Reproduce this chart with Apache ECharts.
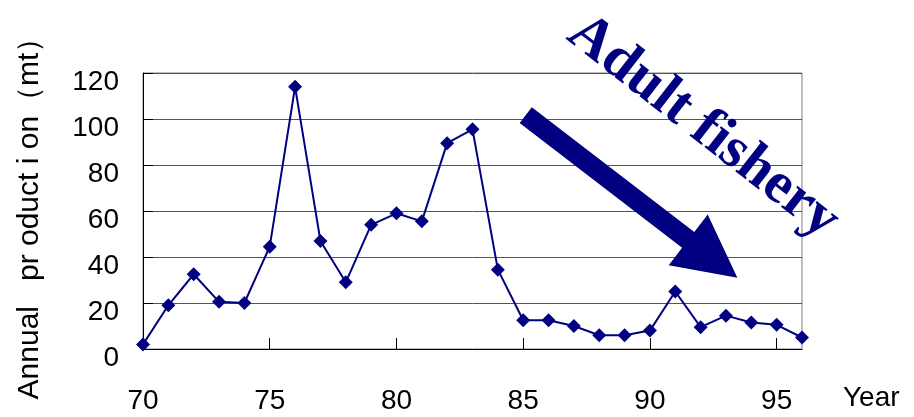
<!DOCTYPE html>
<html lang="en">
<head>
    <meta charset="utf-8">
    <title>Annual production</title>
    <script src="https://cdn.jsdelivr.net/npm/echarts@6/dist/echarts.min.js"></script>
</head>
<body style="margin:0;">
<div id="main" style="width: 914px; height: 417px;"></div>

<script type="text/javascript">
    // year (19xx) and annual production (mt)
    const years = [70, 71, 72, 73, 74, 75, 76, 77, 78, 79, 80, 81, 82, 83, 84, 85, 86, 87, 88, 89, 90, 91, 92, 93, 94, 95, 96];
    const production = [2, 19, 32.5, 20.5, 20, 44.5, 114, 47, 29, 54, 59, 55.5, 89.5, 95.5, 34.5, 12.5, 12.5, 10, 6, 6, 8, 25, 9.5, 14.5, 11.5, 10.5, 5];
    const xTicks = [70, 75, 80, 85, 90, 95];
    const yTicks = [0, 20, 40, 60, 80, 100, 120];

    // annotation anchors, in data coordinates
    const arrowFrom = [85.1, 101.7];
    const arrowTo = [93.45, 31];
    const noteAt = [92.1, 96.5];

    const navy = '#000080';
    const font = '"Liberation Sans", Arial, sans-serif';

    let myChart = echarts.init(document.getElementById('main'));
    const option = {
        animation: false,
        grid: {
            left: 143, right: 112, top: 73, bottom: 68,
            show: true, borderColor: '#808080', borderWidth: 1
        },
        xAxis: {
            type: 'value',
            min: xTicks[0],
            max: years[years.length - 1],
            interval: 5,
            name: 'Year',
            nameLocation: 'end',
            nameGap: 41,
            nameTextStyle: { color: '#000', fontFamily: font, fontSize: 28, verticalAlign: 'top', lineHeight: 28, padding: [35, 0, 0, 0] },
            axisLine: { lineStyle: { color: '#000', width: 1 } },
            axisTick: { inside: true, length: 11, lineStyle: { color: '#000' } },
            axisLabel: { color: '#000', fontFamily: font, fontSize: 28, margin: 38, showMaxLabel: false },
            splitLine: { show: false }
        },
        yAxis: {
            type: 'value',
            min: yTicks[0],
            max: yTicks[yTicks.length - 1],
            interval: 20,
            name: 'Annual   pr oduct i on（mt）',
            nameLocation: 'middle',
            nameRotate: 90,
            nameGap: 98,
            nameTextStyle: { color: '#000', fontFamily: font, fontSize: 30 },
            axisLine: { show: true, lineStyle: { color: '#000', width: 1 } },
            axisTick: { show: true, inside: true, length: 10, lineStyle: { color: '#000' } },
            axisLabel: { color: '#000', fontFamily: font, fontSize: 28, margin: 24, verticalAlign: 'top', lineHeight: 18 },
            splitLine: { lineStyle: { color: '#555', width: 1 } }
        },
        series: [{
            type: 'line',
            data: years.map((y, i) => [y, production[i]]),
            symbol: 'diamond',
            symbolSize: 14,
            lineStyle: { color: navy, width: 2 },
            itemStyle: { color: navy }
        }]
    };
    myChart.setOption(option);

    // arrow and note placed through the axes
    const p0 = myChart.convertToPixel({ gridIndex: 0 }, arrowFrom);
    const p1 = myChart.convertToPixel({ gridIndex: 0 }, arrowTo);
    const pt = myChart.convertToPixel({ gridIndex: 0 }, noteAt);
    const dx = p1[0] - p0[0], dy = p1[1] - p0[1];
    const len = Math.sqrt(dx * dx + dy * dy);
    const ux = dx / len, uy = dy / len, nx = -uy, ny = ux;
    const headLen = 62, headHalf = 32, shaftHalf = 10;
    const bx = p1[0] - ux * headLen, by = p1[1] - uy * headLen;
    const pts = [
        [p0[0] + nx * shaftHalf, p0[1] + ny * shaftHalf],
        [bx + nx * shaftHalf, by + ny * shaftHalf],
        [bx + nx * headHalf, by + ny * headHalf],
        p1,
        [bx - nx * headHalf, by - ny * headHalf],
        [bx - nx * shaftHalf, by - ny * shaftHalf],
        [p0[0] - nx * shaftHalf, p0[1] - ny * shaftHalf]
    ];
    myChart.setOption({
        graphic: [
            { type: 'polygon', shape: { points: pts }, style: { fill: navy }, z: 10 },
            {
                type: 'text', x: pt[0], y: pt[1], rotation: -38 * Math.PI / 180, z: 10,
                style: {
                    text: 'Adult fishery', fill: navy, align: 'center', verticalAlign: 'middle',
                    font: 'bold 58px "Liberation Serif", "Times New Roman", serif'
                }
            }
        ]
    });
</script>
</body>
</html>
